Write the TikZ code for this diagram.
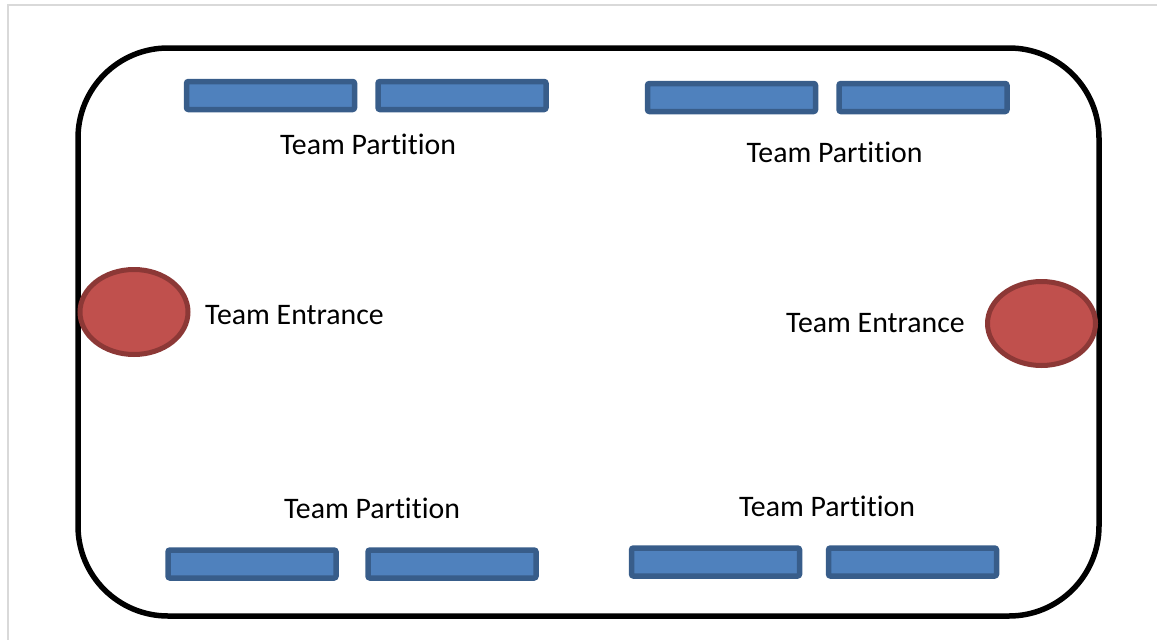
\documentclass[tikz,border=0pt]{standalone}
\usepackage{fontspec}
\setmainfont{Carlito}[Ligatures={NoCommon}]
\usetikzlibrary{shapes,arrows}
\definecolor{partfill}{HTML}{4F81BD}
\definecolor{partdraw}{HTML}{385D8A}
\definecolor{doorfill}{HTML}{C0504D}
\definecolor{doordraw}{HTML}{8C3836}
\tikzstyle{partition} = [rectangle, draw=partdraw, fill=partfill, line width=5.5pt,
    rounded corners=2pt, minimum width=168pt, minimum height=28pt, inner sep=0pt]
\tikzstyle{entrance} = [ellipse, draw=doordraw, fill=doorfill, line width=5pt,
    minimum width=108pt, minimum height=85pt, inner sep=0pt]
\tikzstyle{caption} = [anchor=base, inner sep=0pt, font=\fontsize{29.8}{34}\selectfont]

\begin{document}
\begin{tikzpicture}[x=1pt, y=-1pt]
      \useasboundingbox (0,0) rectangle (1157,640);
      \draw [gray!30, line width=2pt] (1157,5) -- (8,5) -- (8,640);
      \draw [line width=5.5pt, rounded corners=90pt] (78,48) rectangle (1099,616);
      % top left
      \node [partition] (p1) at (270.5, 95.5) {};
      \node [partition] (p2) at (462, 95.5) {};
      \node [caption] (t1) at (368, 154) {Team Partition};
      % top right
      \node [partition] (p3) at (731.5, 97.5) {};
      \node [partition] (p4) at (923, 97.5) {};
      \node [caption] (t2) at (834.5, 162) {Team Partition};
      % entrances
      \node [entrance] (e1) at (134, 312) {};
      \node [caption] (t3) at (294.5, 324) {Team Entrance};
      \node [entrance, minimum height=84pt] (e2) at (1041.5, 323.5) {};
      \node [caption] (t4) at (875.5, 332) {Team Entrance};
      % bottom left
      \node [caption] (t5) at (372, 518) {Team Partition};
      \node [partition] (p5) at (252, 564) {};
      \node [partition] (p6) at (452, 564) {};
      % bottom right
      \node [caption] (t6) at (827, 516) {Team Partition};
      \node [partition] (p7) at (715.5, 562) {};
      \node [partition] (p8) at (912.5, 562) {};
  \end{tikzpicture}
\end{document}
